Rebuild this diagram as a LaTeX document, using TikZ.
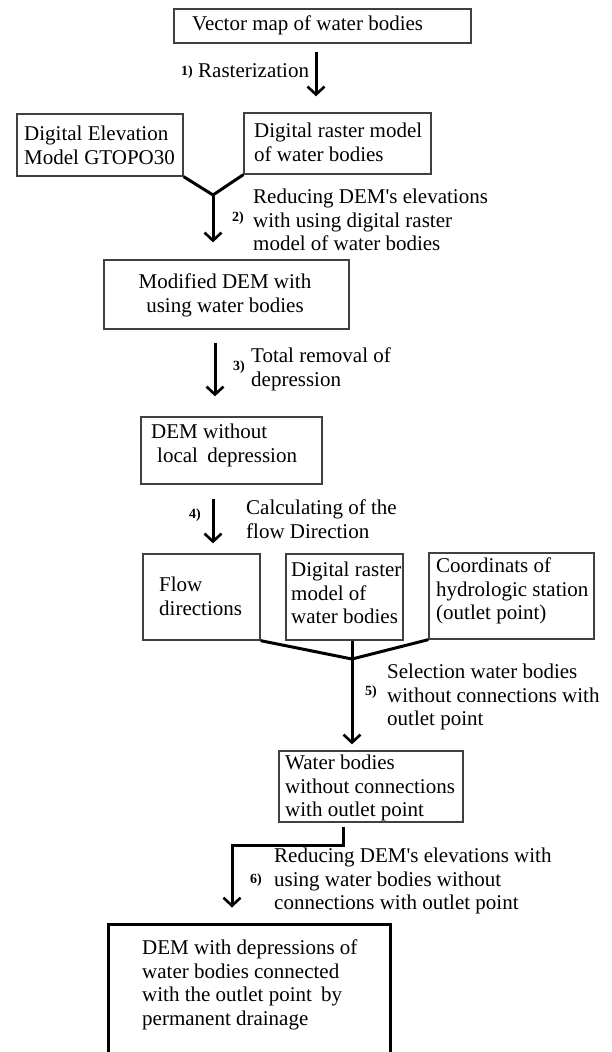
\documentclass[tikz,border=0pt]{standalone}
\usepackage{fontspec}
\setmainfont{Liberation Serif}
\usetikzlibrary{arrows.meta,calc}
\tikzset{
  box/.style={draw=black!75, line width=1.3pt, rectangle, inner sep=0pt},
  finalbox/.style={draw=black, line width=3pt, rectangle, inner sep=0pt},
  txt/.style={inner sep=0pt, anchor=north west, align=left, font=\fontsize{21}{23.5}\selectfont},
  num/.style={inner sep=0pt, anchor=west, font=\fontsize{14}{16}\selectfont\bfseries},
  conn/.style={draw=black, line width=3pt},
  arr/.style={conn, -{Straight Barb[length=8pt,width=17pt,line width=2.6pt]}},
}
\begin{document}
\begin{tikzpicture}[x=1pt,y=-1pt]
\useasboundingbox (0,0) rectangle (611,1052);
\clip (0,0) rectangle (611,1052);
\fill[white] (0,0) rectangle (611,1052);

% boxes
\node[box, minimum width=297pt, minimum height=34pt] (vec) at (322.5,26) {};
\node[box, minimum width=166pt, minimum height=62pt] (gtopo) at (100,145) {};
\node[box, minimum width=187pt, minimum height=61pt] (drm1) at (337.5,143.5) {};
\node[box, minimum width=245pt, minimum height=69pt] (mod) at (226.5,294.5) {};
\node[box, minimum width=181pt, minimum height=67pt] (nodep) at (231.5,450.5) {};
\node[box, minimum width=117pt, minimum height=86pt] (flow) at (201.5,597) {};
\node[box, minimum width=117pt, minimum height=86pt] (drm2) at (344.5,597) {};
\node[box, minimum width=165pt, minimum height=86pt] (coord) at (511.5,596) {};
\node[box, minimum width=184pt, minimum height=71pt] (wb) at (371,786.5) {};
\node[finalbox, minimum width=282pt, minimum height=156pt] (final) at (249,1002) {};

% box texts
\node[txt] (vect) at (192,14) {\strut Vector map of water bodies};
\node[txt] (gtopot) at (24,124) {\strut Digital Elevation\\\strut Model GTOPO30};
\node[txt] (drm1t) at (254,121) {\strut Digital raster model\\\strut of water bodies};
\node[txt, anchor=north, align=center] (modt) at (225,272) {\strut Modified DEM with\\\strut using water bodies};
\node[txt] (nodept) at (151,422) {\strut DEM without\\\strut\hspace{6pt}local\hspace{4pt} depression};
\node[txt] (flowt) at (159,575) {\strut Flow\\\strut directions};
\node[txt] (drm2t) at (291,560) {\strut Digital raster\\\strut model of\\\strut water bodies};
\node[txt] (coordt) at (436,556) {\strut Coordinats of\\\strut hydrologic station\\\strut (outlet point)};
\node[txt] (wbt) at (285,753) {\strut Water bodies\\\strut without connections\\\strut with outlet point};
\node[txt] (finalt) at (142,938) {\strut DEM with depressions of\\\strut water bodies connected\\\strut with the outlet point\hspace{4pt} by\\\strut permanent drainage};

% step labels
\node[num] (n1) at (181,72) {1)};
\node[txt] (s1) at (198,61) {\strut Rasterization};
\node[num] (n2) at (232,218) {2)};
\node[txt] (s2) at (253,187) {\strut Reducing DEM\textquotesingle s elevations\\\strut with using digital raster\\\strut model of water bodies};
\node[num] (n3) at (233,367) {3)};
\node[txt] (s3) at (251,346) {\strut Total removal of\\\strut depression};
\node[num] (n4) at (189,515) {4)};
\node[txt] (s4) at (246,498) {\strut Calculating of the\\\strut flow Direction};
\node[num] (n5) at (365,692) {5)};
\node[txt] (s5) at (387,662) {\strut Selection water bodies\\\strut without connections with\\\strut outlet point};
\node[num] (n6) at (250,880) {6)};
\node[txt] (s6) at (274,846) {\strut Reducing DEM\textquotesingle s elevations with\\\strut using water bodies without\\\strut connections with outlet point};

% connectors
\draw[arr, shorten <=8pt, shorten >=16pt] ([xshift=-6.5pt]vec.south) -- ([xshift=-6.5pt]vec.south |- drm1.north);

\coordinate (j1) at (213,195);
\draw[conn, line join=miter] (gtopo.south east) -- (j1) -- (drm1.south west);
\draw[arr, shorten >=17pt] (j1) -- (j1 |- mod.north);

\draw[arr, shorten <=13pt, shorten >=20pt] ([xshift=-11.5pt]mod.south) -- ([xshift=-11.5pt]mod.south |- nodep.north);

\draw[arr, shorten <=14pt, shorten >=10pt] ([xshift=-18.5pt]nodep.south) -- ([xshift=-18.5pt]nodep.south |- flow.north);

\coordinate (j2) at (352,659);
\draw[conn, line join=miter] (flow.south east) -- (j2) -- (coord.south west);
\draw[conn] (j2 |- drm2.south) -- (j2);
\draw[arr, shorten >=6pt] (j2) -- (j2 |- wb.north);

\draw[arr, line join=miter, shorten <=4pt, shorten >=15pt] ([xshift=-28pt]wb.south) -- ++(0,23) -| ([xshift=-17pt]final.north);
\end{tikzpicture}
\end{document}
